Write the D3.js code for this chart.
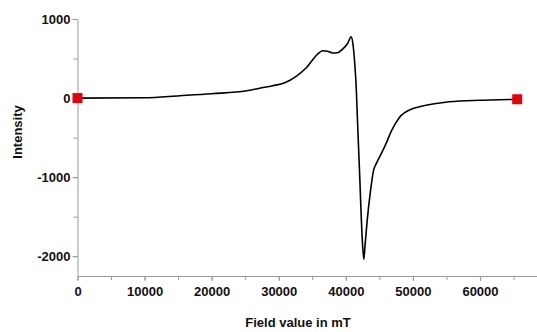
<!DOCTYPE html>
<meta charset="utf-8">
<head>
    <script src="https://d3js.org/d3.v7.min.js"></script>
</head>
<style>
    body { margin: 0; background: #fff; font-family: Arial, "Liberation Sans", sans-serif; }
    .axis path, .axis line { stroke: #9a9a9a; }
    .axis text { font: bold 13px Arial, "Liberation Sans", sans-serif; fill: #111; }
    .title { font: bold 13px Arial, "Liberation Sans", sans-serif; fill: #111; }
</style>
<body>
<svg id="chart" width="537" height="332"></svg>
<script>
    'use strict';

    // field (mT) and intensity
    const field = [0, 10000, 15250, 20000, 25200, 27150, 29100, 30900, 32700, 34150, 35800, 36530,
        37280, 38020, 38770, 39510, 40250, 40800, 41050, 41300, 41550, 41740, 42040, 42440, 42680,
        42860, 43180, 43680, 44120, 44520, 45270, 45910, 46800, 47990, 49930, 50970, 53200, 55430,
        59900, 62870, 65550];
    const intensity = [0, 5, 30, 55, 92, 125, 156, 194, 282, 387, 557, 599,
        592, 570, 573, 620, 687, 776, 690, 472, 134, -287, -920, -1765, -2038,
        -1870, -1553, -1174, -920, -832, -706, -592, -415, -246, -135, -110, -72, -47,
        -28, -22, -15];
    const markers = [[0, 0], [65550, -15]];
    const xTicks = [0, 10000, 20000, 30000, 40000, 50000, 60000];
    const yTicks = [1000, 0, -1000, -2000];

    const svg = d3.select("#chart");
    const x = d3.scaleLinear().domain([0, 68500]).range([77.5, 537]);
    const y = d3.scaleLinear().domain([-2250, 1000]).range([276, 19]);
    const fmt = d => String(d);  // plain hyphen minus, like the original

    // minor ticks
    svg.append("g").attr("class", "axis")
        .attr("transform", "translate(0,276)")
        .call(d3.axisBottom(x).tickValues(d3.range(0, 68500, 5000)).tickSize(4).tickFormat(""))
        .call(g => g.select(".domain").remove());
    svg.append("g").attr("class", "axis")
        .attr("transform", "translate(77.5,0)")
        .call(d3.axisLeft(y).tickValues(d3.range(-2000, 1001, 500)).tickSize(4).tickFormat(""))
        .call(g => g.select(".domain").remove());

    svg.append("g").attr("class", "axis")
        .attr("transform", "translate(0,276)")
        .call(d3.axisBottom(x).tickValues(xTicks).tickSize(5).tickSizeOuter(0).tickPadding(6).tickFormat(fmt));
    const yAxis = svg.append("g").attr("class", "axis")
        .attr("transform", "translate(77.5,0)")
        .call(d3.axisLeft(y).tickValues(yTicks).tickSize(5).tickSizeOuter(0).tickPadding(2).tickFormat(fmt));
    yAxis.selectAll("text").attr("dy", "0.35em");

    const line = d3.line()
        .x((d, i) => x(field[i]))
        .y(d => y(d))
        .curve(d3.curveMonotoneX);

    svg.append("path")
        .datum(intensity)
        .attr("fill", "none")
        .attr("stroke", "#000")
        .attr("stroke-width", 1.6)
        .attr("d", line);

    svg.selectAll(".mk")
        .data(markers)
        .enter().append("rect")
        .attr("class", "mk")
        .attr("x", d => x(d[0]) - 5)
        .attr("y", d => y(d[1]) - 5)
        .attr("width", 10)
        .attr("height", 10)
        .attr("fill", "#e8000b");

    svg.append("text").attr("class", "title")
        .attr("x", 298).attr("y", 327)
        .attr("text-anchor", "middle")
        .text("Field value in mT");
    svg.append("text").attr("class", "title")
        .attr("transform", "translate(22,132) rotate(-90)")
        .attr("text-anchor", "middle")
        .text("Intensity");
</script>
</body>
